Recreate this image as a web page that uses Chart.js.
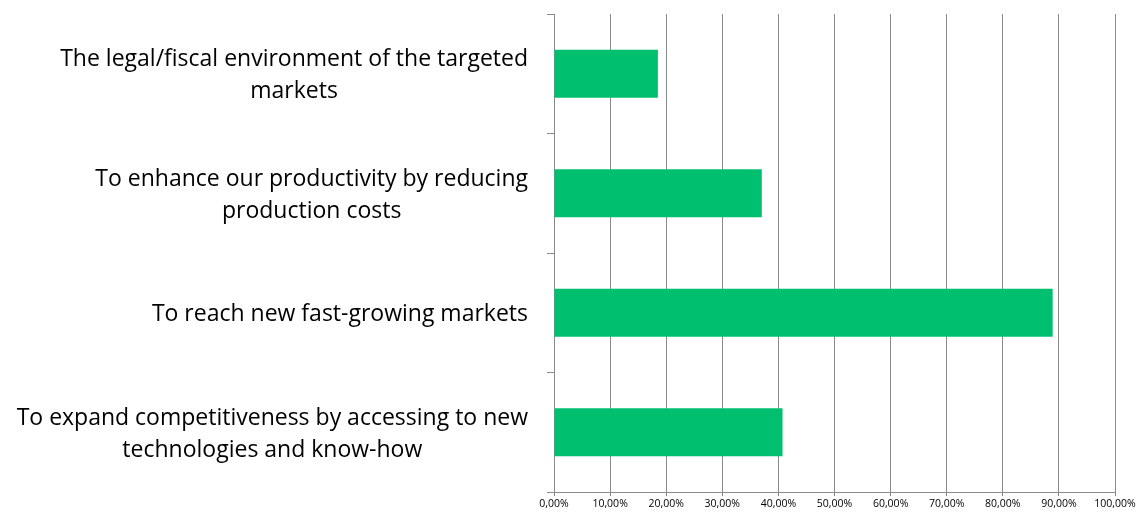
<!DOCTYPE html>
<html>
<head>
<meta charset="utf-8">
<script src="https://cdn.jsdelivr.net/npm/chart.js@4/dist/chart.umd.min.js"></script>
<style>
  html, body { margin: 0; padding: 0; background: #fff; }
  #wrap { width: 1146px; height: 518px; }
</style>
</head>
<body>
<div id="wrap"><canvas id="myChart"></canvas></div>
<script>
// motives, top to bottom, each split into its printed lines
const motives = [
    ['The legal/fiscal environment of the targeted', 'markets'],
    ['To enhance our productivity by reducing', 'production costs'],
    ['To reach new fast-growing markets'],
    ['To expand competitiveness by accessing to new', 'technologies and know-how']
];
const shares = [18.52, 37.04, 88.89, 40.74];
const shareTicks = [0, 10, 20, 30, 40, 50, 60, 70, 80, 90, 100];

const gridGray = '#8a8a8a';
const labelFont = '23px "Open Sans", sans-serif';

// category labels: block right-aligned, lines centred inside the block
const motiveLabels = {
    id: 'motiveLabels',
    afterDraw(chart) {
        const c = chart.ctx;
        const y = chart.scales.y;
        const lineH = 32;
        c.save();
        c.font = labelFont;
        c.fillStyle = '#000';
        c.textAlign = 'center';
        c.textBaseline = 'middle';
        motives.forEach((lines, i) => {
            const widest = Math.max(...lines.map(l => c.measureText(l).width));
            const cx = y.right - 26 - widest / 2;
            const cy = y.getPixelForTick(i) + 2;
            lines.forEach((l, k) => {
                c.fillText(l, cx, cy + (k - (lines.length - 1) / 2) * lineH);
            });
        });
        c.restore();
    }
};

const ctx = document.getElementById('myChart').getContext('2d');
const myChart = new Chart(ctx, {
    type: 'bar',
    data: {
        labels: motives,
        datasets: [{
            data: shares,
            backgroundColor: '#00c06f',
            borderWidth: 0,
            barPercentage: 0.4,
            categoryPercentage: 1
        }]
    },
    options: {
        indexAxis: 'y',
        responsive: true,
        maintainAspectRatio: false,
        animation: false,
        layout: { padding: { top: 14, right: 31, bottom: 0, left: 0 } },
        plugins: {
            legend: { display: false },
            tooltip: { enabled: false }
        },
        scales: {
            x: {
                min: 0,
                max: 100,
                afterBuildTicks: s => { s.ticks = shareTicks.map(v => ({ value: v })); },
                afterFit: s => { s.height = 26; },
                grid: { color: gridGray, lineWidth: 1, tickLength: 4 },
                border: { color: gridGray },
                ticks: {
                    padding: 2,
                    maxRotation: 0,
                    autoSkip: false,
                    color: '#000',
                    font: { family: '"Open Sans", sans-serif', size: 10.5 },
                    callback: v => v.toFixed(2).replace('.', ',') + '%'
                }
            },
            y: {
                offset: true,
                afterFit: s => { s.width = 554; },
                grid: { offset: true, drawOnChartArea: false, tickLength: 7, color: gridGray },
                border: { color: gridGray },
                ticks: { display: false }
            }
        }
    },
    plugins: [motiveLabels]
});
</script>
</body>
</html>
